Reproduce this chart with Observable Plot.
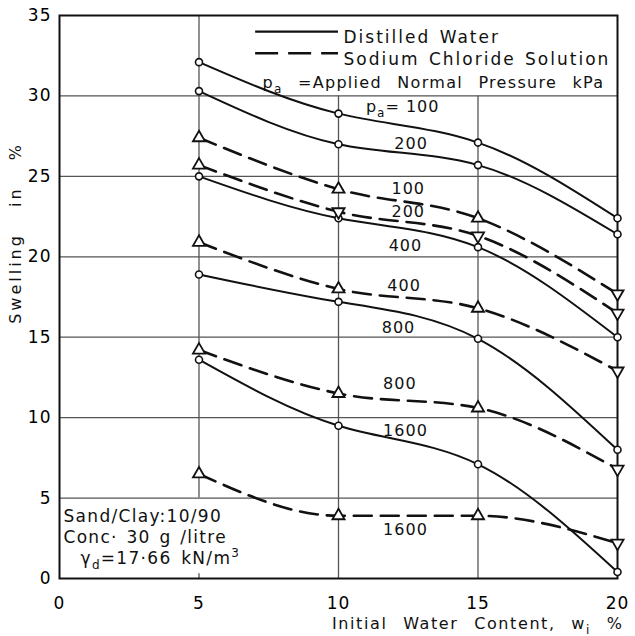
<!DOCTYPE html>
<html><head><meta charset="utf-8">
<script src="https://cdn.jsdelivr.net/npm/d3@7"></script>
<script src="https://cdn.jsdelivr.net/npm/@observablehq/plot@0.6"></script>
<style>
body{margin:0;background:#fff}
#chart svg{display:block}
#chart text{letter-spacing:1px}
</style></head><body><div id="chart"></div>
<script>
// ---- data ----
const waterContent = [5, 10, 15, 20];
const pressures = [100, 200, 400, 800, 1600];
const distilled100 = [32.1, 28.9, 27.1, 22.4];
const distilled200 = [30.3, 27.0, 25.7, 21.4];
const distilled400 = [25.0, 22.4, 20.6, 15.0];
const distilled800 = [18.9, 17.2, 14.9, 8.0];
const distilled1600 = [13.6, 9.5, 7.1, 0.4];
const nacl100 = [27.4, 24.2, 22.4, 17.7];
const nacl200 = [25.7, 22.8, 21.3, 16.5];
const nacl400 = [20.9, 18.0, 16.8, 12.9];
const nacl800 = [14.2, 11.5, 10.6, 6.8];
const nacl1600 = [6.5, 3.9, 3.9, 2.2];
const distilledLabels = ["p_{a}= 100", "200", "400", "800", "1600"];
const naclLabels = ["100", "200", "400", "800", "1600"];
const distilledLabelX = [12.3, 12.6, 12.4, 12.15, 12.4];
const distilledLabelY = [29.3, 27.0, 20.7, 15.6, 9.2];
const naclLabelX = [12.5, 12.5, 12.35, 12.2, 12.4];
const naclLabelY = [24.2, 22.8, 18.2, 12.1, 3.0];
const xTicks = [0, 5, 10, 15, 20];
const yTicks = [0, 5, 10, 15, 20, 25, 30, 35];
const gridY = [5, 10, 15, 20, 25, 30];
const gridX = [10, 15];
const legendSolid = "Distilled Water";
const legendDashed = "Sodium Chloride Solution";
const legendNote = "p_{a} =Applied Normal Pressure kPa";
const boxLine1 = "Sand/Clay:10/90";
const boxLine2 = "Conc\u00b7 30 g /litre";
const boxLine3 = "\u03b3_{d}=17\u00b766 kN/m^{3}";
const xTitle = "Initial Water Content, w_{i} %";
const yTitle = "Swelling in %";

// ---- build rows ----
const distilledSeries = [distilled100, distilled200, distilled400, distilled800, distilled1600];
const naclSeries = [nacl100, nacl200, nacl400, nacl800, nacl1600];
function toRows(list, kind) {
  const out = [];
  list.forEach((vals, i) => vals.forEach((v, j) =>
    out.push({kind, p: pressures[i], x: waterContent[j], y: v})));
  return out;
}
const dwRows = toRows(distilledSeries, "dw");
const naRows = toRows(naclSeries, "na");
const isDown = d => d.x === 20 || (d.p === 200 && d.x >= 10);
const dwLabelRows = distilledLabels.map((t, i) => ({t, x: distilledLabelX[i], y: distilledLabelY[i]}));
const naLabelRows = naclLabels.map((t, i) => ({t, x: naclLabelX[i], y: naclLabelY[i]}));

const triangleDown = {
  draw(context, size) {
    const s3 = Math.sqrt(3);
    const y = -Math.sqrt(size / (s3 * 3));
    context.moveTo(0, -y * 2);
    context.lineTo(-s3 * y, y);
    context.lineTo(s3 * y, y);
    context.closePath();
  }
};
const dash = "18,9";
const ink = "#111";
const fixedText = (s, o) => Plot.text([s], {text: d => d, fontSize: 16, fill: ink, ...o});

const plot = Plot.plot({
  width: 635, height: 636,
  marginLeft: 59, marginRight: 18, marginTop: 15, marginBottom: 58,
  x: {domain: [0, 20]},
  y: {domain: [0, 35]},
  style: {fontFamily: "DejaVu Sans", fontSize: "17px", background: "white", color: "black"},
  marks: [
    // grid
    Plot.ruleY(gridY, {x1: 0, x2: 20, stroke: "#555", strokeWidth: 1.3}),
    Plot.ruleX(gridX, {y1: 0, y2: 30, stroke: "#555", strokeWidth: 1.3}),
    Plot.ruleX([5], {y1: 5, y2: 35, stroke: "#555", strokeWidth: 1.3}),
    Plot.ruleX([5], {y1: 0, y2: 0.3, stroke: "#555", strokeWidth: 1.3}),
    Plot.frame({stroke: ink, strokeWidth: 2}),
    // axes
    Plot.axisY(yTicks, {tickSize: 0, tickPadding: 8, label: null, fontSize: 17}),
    Plot.axisX(xTicks, {tickSize: 0, tickPadding: 18, label: null, fontSize: 17}),
    // curves
    Plot.line(dwRows, {x: "x", y: "y", z: "p", curve: "natural", stroke: ink, strokeWidth: 2}),
    Plot.line(naRows, {x: "x", y: "y", z: "p", curve: "monotone-x", stroke: ink, strokeWidth: 2.6, strokeDasharray: dash}),
    Plot.dot(dwRows, {x: "x", y: "y", r: 3.5, fill: "white", stroke: ink, strokeWidth: 1.6}),
    Plot.dot(naRows.filter(d => !isDown(d)), {x: "x", y: "y", symbol: "triangle", r: 4.5, fill: "white", stroke: ink, strokeWidth: 1.8}),
    Plot.dot(naRows.filter(isDown), {x: "x", y: "y", symbol: triangleDown, r: 4.5, fill: "white", stroke: ink, strokeWidth: 1.8}),
    // curve labels
    Plot.text(dwLabelRows, {x: "x", y: "y", text: "t", fontSize: 16, fill: ink}),
    Plot.text(naLabelRows, {x: "x", y: "y", text: "t", fontSize: 16, fill: ink}),
    // legend
    Plot.ruleY([34.0], {x1: 7.03, x2: 10.0, stroke: ink, strokeWidth: 2.4}),
    Plot.ruleY([32.65], {x1: 7.03, x2: 10.0, stroke: ink, strokeWidth: 2.6, strokeDasharray: "23,10"}),
    fixedText(legendSolid, {frameAnchor: "top-left", dx: 284, dy: 15, textAnchor: "start", fontSize: 17}),
    fixedText(legendDashed, {frameAnchor: "top-left", dx: 284, dy: 37, textAnchor: "start", fontSize: 17}),
    fixedText(legendNote, {frameAnchor: "top-left", dx: 203, dy: 61, textAnchor: "start", fontSize: 16}),
    // info box
    fixedText(boxLine1, {frameAnchor: "bottom-left", dx: 4, dy: -57, textAnchor: "start", fontSize: 17}),
    fixedText(boxLine2, {frameAnchor: "bottom-left", dx: 4, dy: -36, textAnchor: "start", fontSize: 17}),
    fixedText(boxLine3, {frameAnchor: "bottom-left", dx: 21, dy: -15, textAnchor: "start", fontSize: 17}),
    // axis titles
    fixedText(yTitle, {frameAnchor: "left", rotate: -90, dx: -44, dy: -64, textAnchor: "middle", fontSize: 16}),
    fixedText(xTitle, {frameAnchor: "bottom-right", dx: 6, dy: 50, textAnchor: "end", fontSize: 16})
  ]
});

// per-text spacing tweaks
const spacing = new Map([
  [legendSolid, ["2px", "2px"]],
  [legendDashed, ["2px", "2px"]],
  [legendNote, ["1.3px", "9px"]],
  [boxLine1, ["1.3px", "0px"]],
  [boxLine2, ["1.3px", "2px"]],
  [boxLine3, ["1.3px", "3px"]],
  [yTitle, ["3px", "18px"]],
  [xTitle, ["1.6px", "9px"]]
]);
plot.querySelectorAll("text").forEach(t => {
  const sp = spacing.get(t.textContent);
  if (sp) { t.style.letterSpacing = sp[0]; t.style.wordSpacing = sp[1]; }
});

// sub/superscripts: turn _{..} and ^{..} into tspans
const NS = "http://www.w3.org/2000/svg";
plot.querySelectorAll("text").forEach(t => {
  const s = t.textContent;
  if (!/[_^]\{/.test(s)) return;
  const parts = s.split(/([_^]\{[^}]*\})/).filter(p => p);
  while (t.firstChild) t.removeChild(t.firstChild);
  let shift = 0;
  parts.forEach(p => {
    const ts = document.createElementNS(NS, "tspan");
    let target = 0, txt = p;
    if (p.startsWith("_{")) { target = 5; txt = p.slice(2, -1); ts.setAttribute("font-size", "12"); }
    else if (p.startsWith("^{")) { target = -7; txt = p.slice(2, -1); ts.setAttribute("font-size", "12"); }
    if (target !== shift) ts.setAttribute("dy", target - shift);
    shift = target;
    ts.textContent = txt;
    t.appendChild(ts);
  });
});

document.getElementById("chart").appendChild(plot);
</script></body></html>
